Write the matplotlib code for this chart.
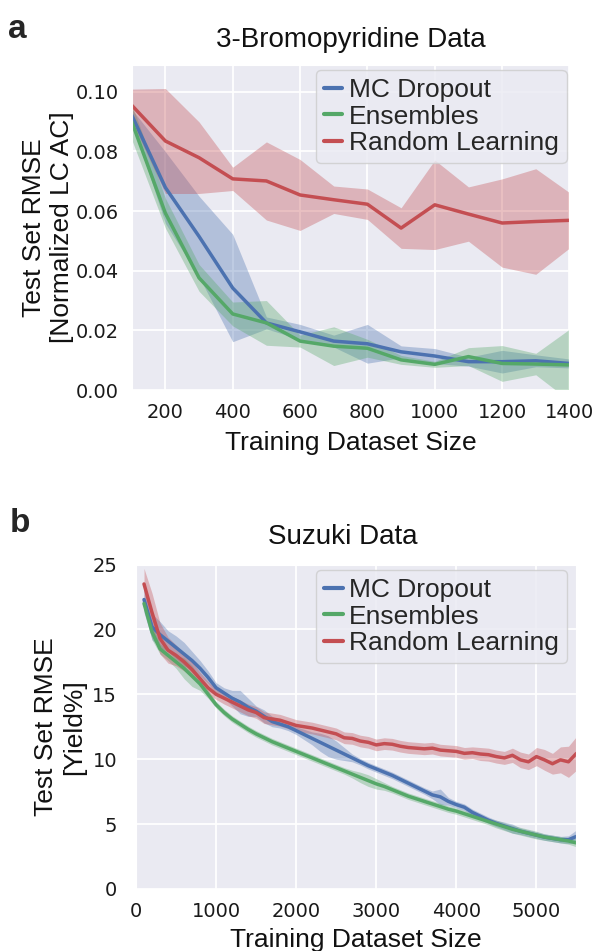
import numpy as np
import matplotlib
matplotlib.use("Agg")
import matplotlib.pyplot as plt
import seaborn as sns

sns.set_style("darkgrid")
plt.rcParams["font.family"] = ["Liberation Sans", "DejaVu Sans"]

# ---- panel a: 3-Bromopyridine ----
size_a = [100, 200, 300, 400, 500, 600, 700, 800, 900, 1000, 1100, 1200, 1300, 1400]
mc_a = [0.0922, 0.0679, 0.0515, 0.0342, 0.0225, 0.0195, 0.0164, 0.0155, 0.0128, 0.0114, 0.0095, 0.0095, 0.0098, 0.0089]
mc_a_err = [0.002, 0.012, 0.0135, 0.018, 0.002, 0.0025, 0.002, 0.0065, 0.002, 0.0025, 0.0015, 0.0038, 0.002, 0.0015]
ens_a = [0.090, 0.0593, 0.0376, 0.0255, 0.0225, 0.0164, 0.0147, 0.014, 0.0101, 0.0086, 0.0112, 0.0089, 0.0087, 0.0084]
ens_a_err = [0.006, 0.005, 0.0045, 0.004, 0.0075, 0.002, 0.0065, 0.003, 0.0015, 0.001, 0.003, 0.006, 0.0036, 0.012]
rnd_a = [0.0955, 0.0835, 0.0779, 0.0708, 0.0701, 0.0654, 0.0638, 0.0623, 0.0543, 0.0621, 0.059, 0.056, 0.0565, 0.0569]
rnd_a_err = [0.0054, 0.0176, 0.012, 0.0039, 0.0131, 0.0119, 0.0046, 0.0051, 0.0068, 0.0150, 0.0091, 0.0148, 0.0177, 0.0093]

# ---- panel b: Suzuki ----
size_b = np.arange(100, 5501, 100)
mc_b = [22.3, 20.2, 19.6, 19.1, 18.6, 18.1, 17.6, 17.0, 16.3, 15.5,
        15.1, 14.7, 14.4, 14.0, 13.7, 13.3, 12.9, 12.7, 12.5, 12.2,
        11.9, 11.6, 11.3, 11.0, 10.7, 10.4, 10.1, 9.8, 9.5, 9.25,
        9.0, 8.75, 8.45, 8.15, 7.85, 7.55, 7.25, 7.1, 6.75, 6.5,
        6.3, 5.9, 5.6, 5.3, 5.05, 4.85, 4.65, 4.45, 4.3, 4.15,
        4.0, 3.9, 3.8, 3.8, 4.05]
mc_b_err = [1.0, 1.0, 1.0, 0.8, 0.9, 0.9, 0.7, 0.6, 0.5, 0.4,
            0.4, 0.6, 0.9, 0.7, 0.4, 0.5, 0.4, 0.3, 0.3, 0.3,
            0.4, 0.5, 0.7, 0.8, 0.7, 0.5, 0.3, 0.25, 0.25, 0.25,
            0.25, 0.25, 0.25, 0.25, 0.25, 0.25, 0.3, 0.6, 0.3, 0.25,
            0.25, 0.25, 0.25, 0.25, 0.25, 0.3, 0.35, 0.25, 0.25, 0.25,
            0.25, 0.25, 0.25, 0.3, 0.5]
ens_b = [22.0, 19.8, 18.5, 18.0, 17.5, 17.0, 16.4, 15.8, 15.0, 14.2,
         13.6, 13.1, 12.7, 12.3, 11.95, 11.65, 11.35, 11.1, 10.85, 10.6,
         10.35, 10.1, 9.85, 9.6, 9.35, 9.1, 8.85, 8.6, 8.35, 8.1,
         7.9, 7.65, 7.4, 7.15, 6.95, 6.75, 6.55, 6.35, 6.15, 6.0,
         5.8, 5.6, 5.4, 5.2, 5.0, 4.8, 4.6, 4.45, 4.3, 4.15,
         4.0, 3.9, 3.8, 3.7, 3.55]
ens_b_err = [0.5, 0.6, 0.4, 0.4, 0.5, 0.8, 0.8, 0.5, 0.3, 0.25,
             0.25, 0.25, 0.25, 0.25, 0.25, 0.25, 0.25, 0.25, 0.25, 0.25,
             0.25, 0.25, 0.25, 0.25, 0.25, 0.25, 0.3, 0.4, 0.45, 0.4,
             0.3, 0.25, 0.25, 0.25, 0.25, 0.25, 0.25, 0.25, 0.25, 0.25,
             0.25, 0.25, 0.25, 0.25, 0.3, 0.3, 0.3, 0.3, 0.3, 0.3,
             0.25, 0.25, 0.25, 0.25, 0.3]
rnd_b = [23.5, 21.3, 19.3, 18.4, 18.0, 17.5, 16.9, 16.2, 15.5, 15.0,
         14.7, 14.4, 14.1, 13.8, 13.6, 13.2, 13.1, 13.0, 12.8, 12.6,
         12.5, 12.4, 12.25, 12.1, 11.95, 11.65, 11.6, 11.4, 11.3, 11.1,
         11.2, 11.15, 11.0, 10.9, 10.85, 10.8, 10.85, 10.7, 10.65, 10.6,
         10.45, 10.5, 10.4, 10.35, 10.2, 10.1, 10.3, 9.95, 9.8, 10.2,
         9.95, 9.65, 9.95, 9.8, 10.45]
rnd_b_err = [1.2, 1.5, 1.2, 1.0, 0.8, 0.7, 0.6, 0.5, 0.5, 0.4,
             0.45, 0.45, 0.45, 0.45, 0.45, 0.45, 0.45, 0.45, 0.45, 0.45,
             0.45, 0.45, 0.45, 0.45, 0.45, 0.45, 0.45, 0.45, 0.45, 0.45,
             0.45, 0.45, 0.45, 0.45, 0.45, 0.45, 0.45, 0.45, 0.45, 0.45,
             0.45, 0.45, 0.5, 0.5, 0.5, 0.5, 0.55, 0.6, 0.6, 0.7,
             0.8, 0.8, 1.0, 1.2, 1.3]

labels = ["MC Dropout", "Ensembles", "Random Learning"]
colors = ["#4C72B0", "#55A868", "#C44E52"]


def draw(ax, x, series, errs):
    for y, e, c, lab in zip(series, errs, colors, labels):
        y = np.array(y)
        e = np.array(e)
        ax.fill_between(x, y - e, y + e, color=c, alpha=0.35, lw=0)
        ax.plot(x, y, color=c, lw=2.5, label=lab)


fig = plt.figure(figsize=(5.97, 9.51), dpi=100)

ax1 = fig.add_axes([0.2206, 0.5899, 0.7333, 0.3418])
draw(ax1, size_a, [mc_a, ens_a, rnd_a], [mc_a_err, ens_a_err, rnd_a_err])
ax1.set_xlim(100, 1400)
ax1.set_ylim(0, 0.109)
ax1.set_xticks([200, 400, 600, 800, 1000, 1200, 1400])
ax1.set_yticks([0, 0.02, 0.04, 0.06, 0.08, 0.10])
ax1.set_yticklabels(["0.00", "0.02", "0.04", "0.06", "0.08", "0.10"])
ax1.tick_params(axis="x", pad=6)
ax1.tick_params(axis="y", pad=5.5)

ax2 = fig.add_axes([0.2278, 0.0652, 0.7365, 0.3412])
draw(ax2, size_b, [mc_b, ens_b, rnd_b], [mc_b_err, ens_b_err, rnd_b_err])
ax2.set_xlim(0, 5490)
ax2.set_ylim(0, 25)
ax2.set_xticks([0, 1000, 2000, 3000, 4000, 5000])
ax2.set_yticks([0, 5, 10, 15, 20, 25])
ax2.tick_params(axis="x", pad=6)
ax2.tick_params(axis="y", pad=10)

for ax in (ax1, ax2):
    for t in ax.get_xticklabels() + ax.get_yticklabels():
        t.set_fontfamily("DejaVu Sans")
        t.set_fontsize(14)
        t.set_color("#1a1a1a")
    ax.grid(color="white", lw=1.3)
    ax.set_xlabel("Training Dataset Size", fontsize=19, color="#111111", va="center")
    ax.xaxis.label.set_fontfamily("Liberation Sans")

ax1.set_ylabel("Test Set RMSE\n[Normalized LC AC]", fontsize=19, color="#111111", va="center")
ax1.yaxis.set_label_coords(-0.192, 0.5)
ax1.xaxis.set_label_coords(0.5, -0.163)
ax2.set_ylabel("Test Set RMSE\n[Yield%]", fontsize=19, color="#111111", va="center")
ax2.yaxis.set_label_coords(-0.173, 0.5)
ax2.xaxis.set_label_coords(0.5, -0.157)

ax1.set_title("3-Bromopyridine Data", fontsize=20, color="#111111", pad=13)
ax2.set_title("Suzuki Data", fontsize=20, color="#111111", pad=15, x=0.47)

for ax, anchor in ((ax1, (0.9936, 0.9846)), (ax2, (0.980, 0.983))):
    leg = ax.legend(loc="upper right", bbox_to_anchor=anchor, borderaxespad=0,
                    fontsize=19, handlelength=0.7, handletextpad=0.25,
                    labelspacing=0.1, borderpad=0.3, frameon=True)
    for line in leg.get_lines():
        line.set_linewidth(3)

fig.text(0.013, 0.985, "a", fontsize=24, fontweight="bold", va="top", ha="left")
fig.text(0.016, 0.466, "b", fontsize=24, fontweight="bold", va="top", ha="left")

fig.savefig("out.png", dpi=100)
